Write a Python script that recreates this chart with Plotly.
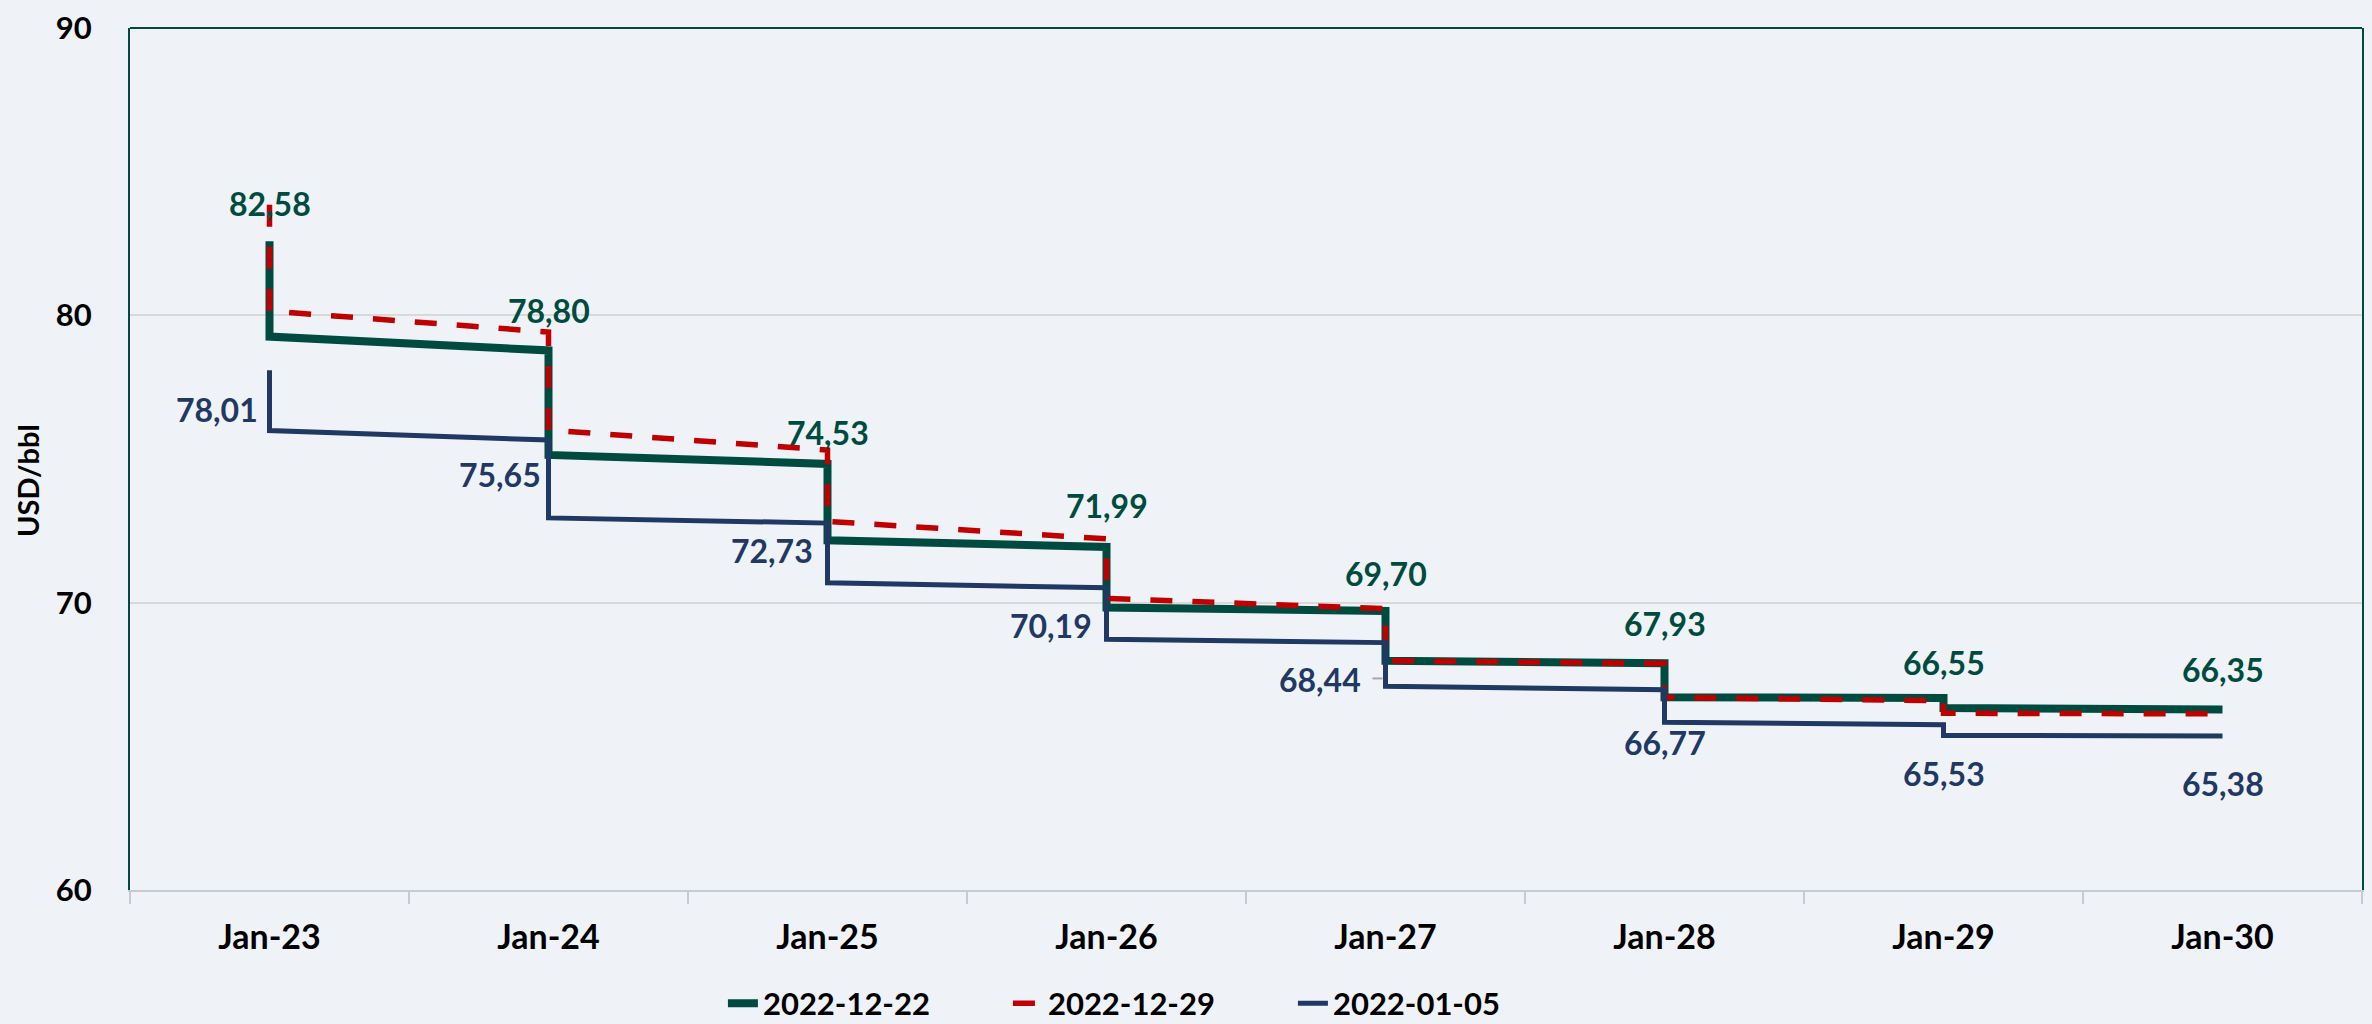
import plotly.graph_objects as go

# ---------------- data ----------------
years = [2023, 2024, 2025, 2026, 2027, 2028, 2029, 2030]
tick_labels = ["Jan-23", "Jan-24", "Jan-25", "Jan-26", "Jan-27", "Jan-28", "Jan-29", "Jan-30"]

# first (January) and last (December) monthly value of each calendar year
green_jan = [82.58, 78.78, 74.83, 71.94, 69.71, 67.89, 66.68, 66.28]
green_dec = [79.26, 75.14, 72.17, 69.83, 67.98, 66.71, 66.33]
red_jan = [83.85, 79.42, 75.31, 72.22, 69.79, 67.88, 66.59, 66.13]
red_dec = [80.15, 76.01, 72.83, 70.15, 67.98, 66.70, 66.15]
blue_jan = [78.09, 75.66, 72.77, 70.52, 68.61, 66.97, 65.75, 65.36]
blue_dec = [75.99, 72.95, 70.69, 68.73, 67.09, 65.84, 65.38]

green_labels = [82.58, 78.80, 74.53, 71.99, 69.70, 67.93, 66.55, 66.35]
blue_labels = [78.01, 75.65, 72.73, 70.19, 68.44, 66.77, 65.53, 65.38]

series_names = ["2022-12-22", "2022-12-29", "2022-01-05"]

# ---------------- style ----------------
BG = "#EFF3F7"
GREEN = "#004B40"
RED = "#C00000"
BLUE = "#1F3864"
FONT = "Lato, 'Open Sans', sans-serif"


def build_path(jan, dec):
    xs, ys = [], []
    for i, yr in enumerate(years):
        xs.append(yr)
        ys.append(jan[i])
        if i < len(dec):
            xs.append(yr)
            ys.append(dec[i])
    return xs, ys


def fmt(v):
    return f"{v:.2f}".replace(".", ",")


fig = go.Figure()

gx, gy = build_path(green_jan, green_dec)
rx, ry = build_path(red_jan, red_dec)
bx, by = build_path(blue_jan, blue_dec)

fig.add_trace(go.Scatter(x=gx, y=gy, mode="lines", name=series_names[0],
                         line=dict(color=GREEN, width=8)))
fig.add_trace(go.Scatter(x=rx, y=ry, mode="lines", name=series_names[1],
                         line=dict(color=RED, width=5.5, dash="22px,20px")))
fig.add_trace(go.Scatter(x=bx, y=by, mode="lines", name=series_names[2],
                         line=dict(color=BLUE, width=5)))

annotations = []
green_shift = [38, 40, 31, 41, 38, 40, 36, 40]
for i, yr in enumerate(years):
    annotations.append(dict(x=yr, y=green_jan[i], xref="x", yref="y", text=fmt(green_labels[i]),
                            showarrow=False, yshift=green_shift[i], xanchor="center", yanchor="middle",
                            font=dict(family=FONT, size=32, color=GREEN, weight="bold")))

blue_style = [
    ("right", -10, -9, "mid"),
    ("right", -6, 4, "mid"),
    ("right", -13, 2, "mid"),
    ("right", -13, -12, "mid"),
    ("right", -23, -15, "mid"),
    ("center", 0, -20, "low"),
    ("center", 0, -38, "low"),
    ("center", 0, -48, "low"),
]
for i, yr in enumerate(years):
    xa, xs_, ys_, ref = blue_style[i]
    low = blue_dec[i] if i < len(blue_dec) else blue_jan[i]
    yref_val = (blue_jan[i] + low) / 2 if ref == "mid" else low
    annotations.append(dict(x=yr, y=yref_val, xref="x", yref="y", text=fmt(blue_labels[i]),
                            showarrow=False, xshift=xs_, yshift=ys_, xanchor=xa, yanchor="middle",
                            font=dict(family=FONT, size=32, color=BLUE, weight="bold")))

# y-axis title
annotations.append(dict(x=0, y=0.5, xref="paper", yref="paper", text="USD/bbl", textangle=-90,
                        showarrow=False, xshift=-103, yshift=-22, xanchor="center", yanchor="middle",
                        font=dict(family=FONT, size=29, color="#000000", weight="bold")))

shapes = [
    # top border of plot area
    dict(type="line", xref="paper", yref="paper", x0=0, x1=1, y0=1, y1=1,
         line=dict(color=GREEN, width=2)),
    # leader line of the 68,44 label
    dict(type="line", xref="x", yref="y", xsizemode="pixel", ysizemode="pixel",
         xanchor=years[4], yanchor=(blue_jan[4] + blue_dec[4]) / 2,
         x0=-13, x1=-3, y0=-14, y1=-14, line=dict(color="#A6A6A6", width=2)),
]

fig.update_layout(
    width=2372, height=1024,
    paper_bgcolor=BG, plot_bgcolor=BG,
    margin=dict(l=130, r=8, t=22, b=134),
    font=dict(family=FONT, size=30, color="#000000"),
    showlegend=True,
    legend=dict(orientation="h", xref="container", yref="container", x=0.485, y=0.02,
                xanchor="center", yanchor="middle", entrywidth=240,
                font=dict(family=FONT, size=31, color="#000000", weight="bold"),
                bgcolor="rgba(0,0,0,0)"),
    annotations=annotations,
    shapes=shapes,
    xaxis=dict(range=[2022.5, 2030.5], tickmode="array", tickvals=years, ticktext=tick_labels,
               ticks="", showgrid=False, zeroline=False, showline=True, linecolor="#C5CBD2", linewidth=2,
               tickfont=dict(family=FONT, size=34, color="#000000", weight="bold"),
               ticklabelstandoff=16,
               minor=dict(tick0=2022.5, dtick=1, ticks="outside", ticklen=12, tickwidth=2,
                          tickcolor="#C5CBD2", showgrid=False)),
    yaxis=dict(range=[60, 90], tickmode="array", tickvals=[60, 70, 80, 90], ticks="",
               showgrid=True, gridcolor="#D9D9D9", gridwidth=2, zeroline=False,
               showline=True, linecolor=GREEN, linewidth=2, mirror=True,
               tickfont=dict(family=FONT, size=31, color="#000000", weight="bold"),
               ticklabelstandoff=30, ticklabeloverflow="allow"),
)

fig.write_html("out.html", config={"displayModeBar": False},
               post_script="document.body.style.margin='0px';")
